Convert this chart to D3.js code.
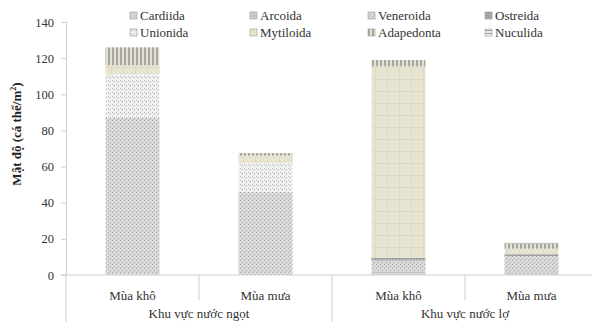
<!DOCTYPE html>
<html>
<head>
<meta charset="utf-8">
<script src="https://cdn.jsdelivr.net/npm/d3@7"></script>
<style>
  body { margin: 0; background: #fff; }
  svg { display: block; }
</style>
</head>
<body>
<div id="chart"></div>
<script>
// categories
var seasons = ['Mùa khô', 'Mùa mưa', 'Mùa khô', 'Mùa mưa'];
var areas = ['Khu vực nước ngọt', 'Khu vực nước lợ'];
var bars = ['ngot-kho', 'ngot-mua', 'lo-kho', 'lo-mua'];

// series (stacked bottom -> top)
var orders = ['Cardiida', 'Arcoida', 'Veneroida', 'Ostreida', 'Unionida', 'Mytiloida', 'Adapedonta', 'Nuculida'];
var cardiida   = [0.5, 0,   1,   0.5];
var arcoida    = [0.5, 0,   1,   1];
var veneroida  = [86,  46,  6,   9];
var ostreida   = [0,   0,   1.5, 1];
var unionida   = [24,  16,  0,   0];
var mytiloida  = [5,   4,   106, 3];
var adapedonta = [10,  1.5, 3.5, 3];
var nuculida   = [0,   0,   0,   0.5];
var seriesValues = [cardiida, arcoida, veneroida, ostreida, unionida, mytiloida, adapedonta, nuculida];

var yTicks = [0, 20, 40, 60, 80, 100, 120, 140];

var width = 592, height = 322;
var plotLeft = 66, plotRight = 598, plotTop = 22, plotBottom = 275;
var serif = 'Liberation Serif';

var svg = d3.select('#chart')
	.append('svg')
	.attr('width', width)
	.attr('height', height);

// patterns that imitate the grey print fills
var defs = svg.append('defs');
function pat(id, w, h, bg, draw) {
	var p = defs.append('pattern')
		.attr('id', id)
		.attr('patternUnits', 'userSpaceOnUse')
		.attr('width', w).attr('height', h);
	p.append('rect').attr('width', w).attr('height', h).attr('fill', bg);
	draw(p);
}
function dot(p, x0, y0, w, h, c) {
	p.append('rect').attr('x', x0).attr('y', y0).attr('width', w).attr('height', h).attr('fill', c);
}
pat('p-Cardiida', 4, 4, '#d4d4d4', function(p) { dot(p, 0, 0, 1, 1, '#c4c4c4'); });
pat('p-Arcoida', 4, 4, '#c4c4c4', function(p) { dot(p, 1, 1, 2, 2, '#d8d8d8'); });
pat('p-Veneroida', 4, 4, '#dadada', function(p) {
	dot(p, 0, 0, 1, 1, '#a8a8a8');
	dot(p, 2, 2, 1, 1, '#a8a8a8');
	dot(p, 1, 3, 1, 1, '#c4c4c4');
});
pat('p-Ostreida', 3, 3, '#a0a0a0', function(p) { dot(p, 1, 1, 1, 1, '#d0d0d0'); });
pat('p-Unionida', 4, 4, '#f2f2f2', function(p) {
	dot(p, 0, 0, 1, 1, '#b4b4b4');
	dot(p, 2, 1, 1, 1, '#b4b4b4');
	dot(p, 1, 2, 1, 1, '#d0d0d0');
});
pat('p-Mytiloida', 12, 12, '#e8e4d2', function(p) {
	dot(p, 3, 0, 1, 12, '#ddd8c2');
	dot(p, 0, 7, 12, 1, '#ddd8c2');
});
pat('p-Adapedonta', 4, 4, '#e4e1d4', function(p) { dot(p, 0, 0, 2, 4, '#a9a8a0'); });
pat('p-Nuculida', 3, 3, '#f0f0f0', function(p) { dot(p, 0, 0, 3, 1, '#9a9a9a'); });

var x = d3.scaleBand()
	.domain(bars)
	.range([plotLeft, plotRight])
	.paddingInner(0.594)
	.paddingOuter(0.297);

var y = d3.scaleLinear()
	.domain([0, 140])
	.range([plotBottom, plotTop]);

// stack
var rows = bars.map(function(b, i) {
	var r = { key: b };
	orders.forEach(function(o, j) { r[o] = seriesValues[j][i]; });
	return r;
});
var stacked = d3.stack().keys(orders)(rows);

svg.append('g')
	.selectAll('g')
	.data(stacked)
	.join('g')
	.attr('fill', function(d) { return 'url(#p-' + d.key + ')'; })
	.selectAll('rect')
	.data(function(d) { return d; })
	.join('rect')
	.attr('x', function(d) { return x(d.data.key); })
	.attr('width', x.bandwidth())
	.attr('y', function(d) { return y(d[1]); })
	.attr('height', function(d) { return y(d[0]) - y(d[1]); });

// y axis
var yAxis = d3.axisLeft(y).tickValues(yTicks).tickSize(5).tickPadding(7);
var gy = svg.append('g')
	.attr('transform', 'translate(' + plotLeft + ',0)')
	.call(yAxis)
	.attr('font-family', serif)
	.attr('font-size', 12.5);
gy.select('.domain').attr('stroke', '#d0d0d0');
gy.selectAll('.tick line').attr('stroke', '#d0d0d0');
gy.selectAll('.tick text').attr('fill', '#333');

// category axis (two levels)
var gx = svg.append('g')
	.attr('font-family', serif)
	.attr('font-size', 13)
	.attr('fill', '#333');
gx.append('line')
	.attr('x1', plotLeft - 5).attr('x2', width)
	.attr('y1', plotBottom).attr('y2', plotBottom)
	.attr('stroke', '#d0d0d0');

var step = x.step();
var seps = bars.map(function(b) { return x(b) - x.paddingOuter() * step; });
gx.selectAll('line.sep')
	.data(seps)
	.join('line')
	.attr('class', 'sep')
	.attr('x1', function(d) { return d; }).attr('x2', function(d) { return d; })
	.attr('y1', plotBottom)
	.attr('y2', function(d, i) { return i % 2 === 0 ? height : plotBottom + 25; })
	.attr('stroke', '#d0d0d0');

gx.selectAll('text.season')
	.data(seasons)
	.join('text')
	.attr('class', 'season')
	.attr('x', function(d, i) { return x(bars[i]) + x.bandwidth() / 2; })
	.attr('y', plotBottom + 25)
	.attr('text-anchor', 'middle')
	.text(function(d) { return d; });

gx.selectAll('text.area')
	.data(areas)
	.join('text')
	.attr('class', 'area')
	.attr('x', function(d, i) { return seps[i * 2] + step; })
	.attr('y', plotBottom + 43)
	.attr('text-anchor', 'middle')
	.text(function(d) { return d; });

// y title
svg.append('text')
	.attr('transform', 'translate(21,134) rotate(-90)')
	.attr('text-anchor', 'middle')
	.attr('fill', '#222')
	.attr('font-family', serif)
	.attr('font-size', 13)
	.attr('font-weight', 'bold')
	.html('Mật độ (cá thể/m<tspan dy="-5" font-size="8">2</tspan><tspan dy="5">)</tspan>');

// legend
var legX = [130, 250, 368, 485];
var legY = [16, 33];
var leg = svg.append('g')
	.attr('font-family', serif)
	.attr('font-size', 13)
	.selectAll('g')
	.data(orders)
	.join('g')
	.attr('transform', function(d, i) {
		return 'translate(' + legX[i % 4] + ',' + legY[Math.floor(i / 4)] + ')';
	});
leg.append('rect')
	.attr('x', 0).attr('y', -4)
	.attr('width', 7).attr('height', 7)
	.attr('fill', function(d) { return 'url(#p-' + d + ')'; })
	.attr('stroke', '#999')
	.attr('stroke-width', 0.6);
leg.append('text')
	.attr('x', 10).attr('y', 4)
	.attr('fill', '#333')
	.text(function(d) { return d; });
</script>
</body>
</html>
